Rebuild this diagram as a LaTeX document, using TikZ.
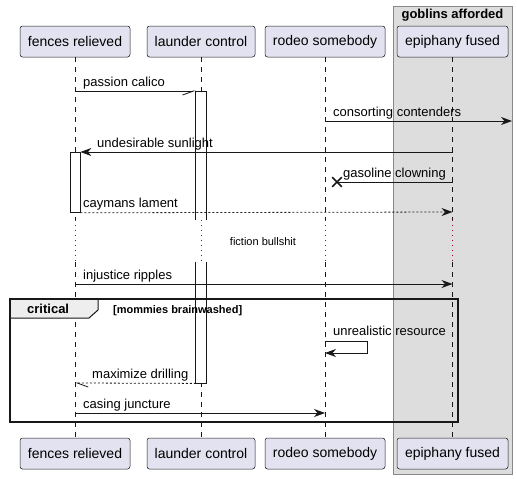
\documentclass[tikz,border=0pt]{standalone}
\usepackage{fontspec}
\setmainfont{Liberation Sans}
\usetikzlibrary{arrows.meta,shapes.misc}
\definecolor{ln}{HTML}{181818}
\definecolor{pfill}{HTML}{E2E2F0}
\definecolor{boxfill}{HTML}{DDDDDD}
\definecolor{boxline}{HTML}{888888}
\definecolor{tabfill}{HTML}{EEEEEE}
\definecolor{delay}{HTML}{A80036}
\begin{document}
\begin{tikzpicture}[x=1pt,y=-1pt,
 part/.style={draw=ln, fill=pfill, rounded corners=2.5pt, inner sep=0pt, minimum height=31pt, font=\fontsize{14}{16}\selectfont, line width=0.5pt},
 life/.style={draw=ln, line width=0.5pt, dash pattern=on 5pt off 5pt},
 dly/.style={draw=delay, line width=1pt, dash pattern=on 1pt off 4pt},
 act/.style={fill=white, inner sep=0pt, minimum width=10pt, anchor=north},
 actline/.style={draw=ln, line width=0.8pt},
 msg/.style={draw=ln, line width=0.8pt, -{Stealth[length=11pt,width=8pt,inset=3.5pt]}},
 plainmsg/.style={draw=ln, line width=0.8pt},
 halfr/.style={draw=ln, line width=0.8pt, -{Straight Barb[right,length=11pt,width=8pt]}},
 halfl/.style={draw=ln, line width=0.8pt, -{Straight Barb[left,length=11pt,width=8pt]}},
 dashedmsg/.style={dash pattern=on 2pt off 2pt},
 lbl/.style={anchor=base west, inner sep=0pt, font=\fontsize{13}{15}\selectfont, text=black},
 crossx/.style={cross out, draw=ln, line width=1.6pt, minimum size=8pt, inner sep=0pt}
]
\useasboundingbox (0,0) rectangle (517,479);
\fill[white] (0,0) rectangle (517,479);

% box group
\filldraw[fill=boxfill, draw=boxline, line width=1pt] (393,6) rectangle (512,474);
\node[font=\bfseries\fontsize{13}{15}\selectfont, inner sep=0pt] (gtitle) at (452.5,15) {goblins afforded};

% participants
\node[part, minimum width=110pt] (fA) at (75,41.5) {fences relieved};
\node[part, minimum width=108pt] (lA) at (201,41.5) {launder control};
\node[part, minimum width=120pt] (rA) at (325,41.5) {rodeo somebody};
\node[part, minimum width=111pt] (eA) at (452.5,41.5) {epiphany fused};
\node[part, minimum width=110pt] (fB) at (75,453.5) {fences relieved};
\node[part, minimum width=108pt] (lB) at (201,453.5) {launder control};
\node[part, minimum width=120pt] (rB) at (325,453.5) {rodeo somebody};
\node[part, minimum width=111pt] (eB) at (452.5,453.5) {epiphany fused};

% delay coordinates
\coordinate (fd1) at (75,220);   \coordinate (fd2) at (75,262);
\coordinate (ld1) at (201,220);  \coordinate (ld2) at (201,262);
\coordinate (rd1) at (325,220);  \coordinate (rd2) at (325,262);
\coordinate (ed1) at (452.5,220);\coordinate (ed2) at (452.5,262);

% lifelines
\draw[life] (fA.south) -- (fd1); \draw[dly] (fd1) -- (fd2); \draw[life] (fd2) -- (fB.north);
\draw[life] (lA.south) -- (ld1); \draw[dly] (ld1) -- (ld2); \draw[life] (ld2) -- (lB.north);
\draw[life] (rA.south) -- (rd1); \draw[dly] (rd1) -- (rd2); \draw[life] (rd2) -- (rB.north);
\draw[life] (eA.south) -- (ed1); \draw[dly] (ed1) -- (ed2); \draw[life] (ed2) -- (eB.north);

\node[font=\fontsize{11}{13}\selectfont, inner sep=0pt] (delaytxt) at (263,242) {fiction bullshit};

% activations
\node[act, minimum height=129pt] (lAct1) at (201,91) {};
\draw[actline] (lAct1.south west) -- (lAct1.north west) -- (lAct1.north east) -- (lAct1.south east);
\node[act, minimum height=121pt] (lAct2) at (201,262) {};
\draw[actline] (lAct2.north west) -- (lAct2.south west) -- (lAct2.south east) -- (lAct2.north east);
\node[act, minimum height=60pt, draw=ln, line width=0.8pt] (fAct) at (75,152) {};

% critical group
\filldraw[fill=tabfill, draw=ln, line width=1pt] (10,299) -- (98,299) -- (98,310) -- (89,318) -- (10,318) -- cycle;
\draw[draw=ln, line width=1.6pt] (10,299) rectangle (458,422);
\node[anchor=base west, inner sep=0pt, font=\bfseries\fontsize{13}{15}\selectfont] (crit) at (27,313.5) {critical};
\node[anchor=base west, inner sep=0pt, font=\bfseries\fontsize{11}{13}\selectfont] (cond) at (113,313) {[mommies brainwashed]};

% message coordinates
\coordinate (m1s) at (75,91);
\coordinate (m2s) at (325,121);  \coordinate (m2e) at (512,121);
\coordinate (m3s) at (452.5,152);
\coordinate (m4s) at (452.5,182);
\node[crossx] (xx) at (337,182) {};
\coordinate (m5e) at (452.5,212);
\coordinate (m6s) at (75,284);   \coordinate (m6e) at (452.5,284);
\coordinate (m7a) at (325,341);  \coordinate (m7b) at (367,341);
\coordinate (m7c) at (367,353);  \coordinate (m7d) at (325,353);
\coordinate (m8e) at (75,383);
\coordinate (m9s) at (75,413);   \coordinate (m9e) at (325,413);

% messages
\draw[halfr] (m1s) -- (lAct1.north west);
\node[lbl] (t1) at (83,86) {passion calico};
\draw[msg] (m2s) -- (m2e);
\node[lbl] (t2) at (333,116) {consorting contenders};
\draw[msg] (m3s) -- (fAct.north east);
\node[lbl] (t3) at (97,147) {undesirable sunlight};
\draw[plainmsg] (m4s) -- (xx.center);
\node[lbl] (t4) at (343,177) {gasoline clowning};
\draw[msg, dashedmsg] (fAct.south east) -- (m5e);
\node[lbl] (t5) at (83,207) {caymans lament};
\draw[msg] (m6s) -- (m6e);
\node[lbl] (t6) at (83,279) {injustice ripples};
\draw[msg] (m7a) -- (m7b) -- (m7c) -- (m7d);
\node[lbl] (t7) at (333,335) {unrealistic resource};
\draw[halfl, dashedmsg] (lAct2.south west) -- (m8e);
\node[lbl] (t8) at (92,378) {maximize drilling};
\draw[msg] (m9s) -- (m9e);
\node[lbl] (t9) at (83,408) {casing juncture};
\end{tikzpicture}
\end{document}
